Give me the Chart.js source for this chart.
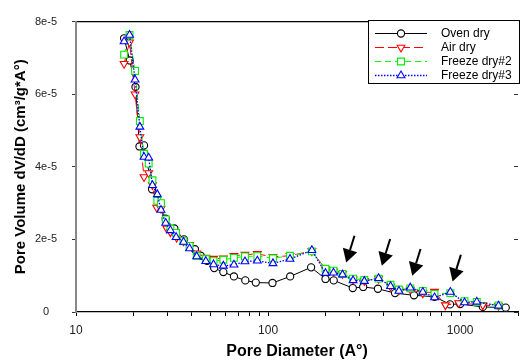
<!DOCTYPE html>
<html>
<head>
<meta charset="utf-8">
<script src="https://cdn.jsdelivr.net/npm/chart.js@4.4.1/dist/chart.umd.min.js"></script>
<style>
html,body{margin:0;padding:0;background:#fff;}
canvas{display:block;}
</style>
</head>
<body>
<canvas id="c" width="525" height="361"></canvas>
<script>
// ---------- data (pore diameter in Å, pore volume dV/dD in cm3/g*Å) ----------
const seriesNames = ['Oven dry', 'Air dry', 'Freeze dry#2', 'Freeze dry#3'];

const ovenDiameters = [17.8,19.05,20.4,21.4,22.6,24.9,29.3,32.5,36.5,41.6,44.6,48.1,52.4,58.5,66.4,76.1,86.3,105.4,130.3,167.5,199,219.6,276,312.7,373,458,575,735,885,1000,1312,1726];
const ovenValues = [7.54e-5,6.93e-5,6.20e-5,4.56e-5,4.59e-5,3.38e-5,2.57e-5,2.30e-5,2.00e-5,1.73e-5,1.55e-5,1.41e-5,1.21e-5,1.10e-5,0.98e-5,0.87e-5,0.81e-5,0.80e-5,0.98e-5,1.23e-5,0.91e-5,0.87e-5,0.66e-5,0.69e-5,0.64e-5,0.52e-5,0.46e-5,0.42e-5,0.21e-5,0.22e-5,0.14e-5,0.12e-5];

const airDiameters = [17.8,19.0,20.3,21.5,22.6,23.9,25.0,26.3,27.7,29.7,31.0,33.4,36.3,39.0,42.5,47.4,52,58.5,66.4,75.8,87.9,106,130,169,199,219,244,277,317,376,434,480,550,639,735,838,983,1312,1583];
const airValues = [6.84e-5,7.43e-5,6.00e-5,4.82e-5,3.72e-5,3.83e-5,3.50e-5,2.88e-5,2.85e-5,2.30e-5,2.20e-5,2.05e-5,1.95e-5,1.85e-5,1.62e-5,1.50e-5,1.47e-5,1.48e-5,1.55e-5,1.58e-5,1.60e-5,1.52e-5,1.55e-5,1.68e-5,1.18e-5,1.12e-5,1.05e-5,0.90e-5,0.86e-5,0.92e-5,0.70e-5,0.60e-5,0.62e-5,0.52e-5,0.56e-5,0.19e-5,0.25e-5,0.19e-5,0.17e-5];

const freezeDiameters = [17.8,19.0,20.3,21.5,22.6,23.9,25.0,26.5,27.7,29.3,31.0,33.2,36.3,39.0,42.5,47.4,52,58.5,66.4,75.8,87.9,106,130,169,199,219,244,277,317,376,434,480,550,639,735,889,1054,1220,1583];
const freeze2Values = [7.09e-5,7.63e-5,6.64e-5,5.26e-5,4.36e-5,4.09e-5,3.63e-5,3.06e-5,3.00e-5,2.55e-5,2.30e-5,2.18e-5,1.95e-5,1.82e-5,1.55e-5,1.46e-5,1.40e-5,1.44e-5,1.49e-5,1.53e-5,1.54e-5,1.48e-5,1.55e-5,1.67e-5,1.19e-5,1.14e-5,1.05e-5,0.92e-5,0.88e-5,0.92e-5,0.75e-5,0.62e-5,0.65e-5,0.58e-5,0.50e-5,0.52e-5,0.30e-5,0.28e-5,0.18e-5];
const freeze3Values = [7.45e-5,7.63e-5,6.40e-5,5.10e-5,4.27e-5,4.25e-5,3.49e-5,3.24e-5,2.81e-5,2.45e-5,2.25e-5,2.06e-5,1.93e-5,1.75e-5,1.53e-5,1.40e-5,1.31e-5,1.27e-5,1.30e-5,1.39e-5,1.41e-5,1.34e-5,1.46e-5,1.70e-5,1.07e-5,1.08e-5,1.03e-5,0.87e-5,0.85e-5,0.93e-5,0.71e-5,0.58e-5,0.67e-5,0.55e-5,0.40e-5,0.55e-5,0.26e-5,0.28e-5,0.17e-5];

// arrow annotations: where each arrow tip points
const arrowDiameters = [255, 391, 563, 913];
const arrowValues = [1.365e-5, 1.275e-5, 1.00e-5, 0.84e-5];

// axes
const xTickValues = [10,20,30,40,50,60,70,80,90,100,200,300,400,500,600,700,800,900,1000,2000];
const xLabelledTicks = [10, 100, 1000];
const xTickLabels = ['10', '100', '1000'];
const yTickValues = [0, 2e-5, 4e-5, 6e-5, 8e-5];
const yTickLabels = ['0', '2e-5', '4e-5', '6e-5', '8e-5'];
const xTitle = 'Pore Diameter (A°)';
const yTitle = 'Pore Volume dV/dD (cm³/g*A°)';

// ---------- chart ----------
const FONT = "'Liberation Sans', Arial, Helvetica, sans-serif";
const pts = (ds, vs) => ds.map((d, i) => ({x: d, y: vs[i]}));

const arrowPlugin = {
  id: 'arrows',
  afterDatasetsDraw(chart) {
    const {ctx, scales} = chart;
    const sx = scales.x, sy = scales.y;
    ctx.save();
    ctx.fillStyle = '#000';
    ctx.strokeStyle = '#000';
    arrowDiameters.forEach((d, i) => {
      const tx = sx.getPixelForValue(d), ty = sy.getPixelForValue(arrowValues[i]);
      const dx = 8.3, dy = -26.7, L = Math.hypot(dx, dy), ux = dx / L, uy = dy / L;
      const headLen = 13, half = 7.5;
      const bx = tx + ux * headLen, by = ty + uy * headLen;
      ctx.lineWidth = 2;
      ctx.beginPath();
      ctx.moveTo(tx + dx, ty + dy);
      ctx.lineTo(bx, by);
      ctx.stroke();
      const px = -uy, py = ux;
      ctx.beginPath();
      ctx.moveTo(tx, ty);
      ctx.lineTo(bx + px * half, by + py * half);
      ctx.lineTo(bx - px * half, by - py * half);
      ctx.closePath();
      ctx.fill();
    });
    ctx.restore();
  }
};

function drawMarker(ctx, ds, x, y) {
  const opts = {pointStyle: ds.pointStyle, radius: ds.pointRadius, rotation: ds.pointRotation || 0, borderWidth: ds.pointBorderWidth};
  ctx.fillStyle = ds.pointBackgroundColor;
  ctx.strokeStyle = ds.pointBorderColor;
  ctx.lineWidth = ds.pointBorderWidth;
  if (Chart.helpers && Chart.helpers.drawPoint) {
    Chart.helpers.drawPoint(ctx, opts, x, y);
  } else {
    ctx.beginPath(); ctx.arc(x, y, ds.pointRadius, 0, Math.PI * 2); ctx.fill(); ctx.stroke();
  }
}

const legendPlugin = {
  id: 'boxLegend',
  afterDraw(chart) {
    const ctx = chart.ctx;
    const x0 = 368.5, y0 = 20.5, w = 151, h = 63;
    ctx.save();
    ctx.fillStyle = '#fff';
    ctx.fillRect(x0, y0, w, h);
    ctx.strokeStyle = '#000';
    ctx.lineWidth = 1;
    ctx.setLineDash([]);
    ctx.strokeRect(x0, y0, w, h);
    chart.data.datasets.forEach((ds, i) => {
      const y = 33.5 + i * 14;
      ctx.save();
      ctx.strokeStyle = ds.borderColor;
      ctx.lineWidth = ds.borderWidth;
      ctx.setLineDash(ds.borderDash || []);
      ctx.beginPath();
      ctx.moveTo(375, y);
      ctx.lineTo(427, y);
      ctx.stroke();
      ctx.setLineDash([]);
      drawMarker(ctx, ds, 401, y);
      ctx.restore();
      ctx.fillStyle = '#000';
      ctx.font = '12px ' + FONT;
      ctx.textBaseline = 'middle';
      ctx.textAlign = 'left';
      ctx.fillText(ds.label, 441, y + 0.5);
    });
    ctx.restore();
  }
};

const common = {
  borderWidth: 1,
  pointBackgroundColor: '#ffffff',
  pointBorderWidth: 1.1,
  tension: 0,
  fill: false,
  xAxisID: 'x',
  yAxisID: 'y'
};

new Chart(document.getElementById('c').getContext('2d'), {
  type: 'line',
  data: {
    datasets: [
      Object.assign({}, common, {
        label: seriesNames[0], data: pts(ovenDiameters, ovenValues),
        borderColor: '#000000', pointBorderColor: '#000000', borderDash: [],
        pointStyle: 'circle', pointRadius: 3.6, order: 3
      }),
      Object.assign({}, common, {
        label: seriesNames[1], data: pts(airDiameters, airValues),
        borderColor: '#ff0000', pointBorderColor: '#ff0000', borderDash: [9, 4],
        pointStyle: 'triangle', pointRotation: 180, pointRadius: 4.5, order: 2
      }),
      Object.assign({}, common, {
        label: seriesNames[2], data: pts(freezeDiameters, freeze2Values),
        borderColor: '#00ff00', pointBorderColor: '#00ee00', borderDash: [6, 4],
        pointStyle: 'rect', pointRadius: 4.8, order: 1
      }),
      Object.assign({}, common, {
        label: seriesNames[3], data: pts(freezeDiameters, freeze3Values),
        borderColor: '#0000ff', pointBorderColor: '#0000ff', borderDash: [1.5, 1.5], borderWidth: 1.3,
        pointStyle: 'triangle', pointRotation: 0, pointRadius: 4.5, order: 0
      })
    ]
  },
  options: {
    responsive: false,
    animation: false,
    devicePixelRatio: 1,
    layout: {padding: 0},
    plugins: {legend: {display: false}, tooltip: {enabled: false}},
    scales: {
      x: {
        type: 'logarithmic', position: 'bottom', min: 10, max: 2000,
        afterBuildTicks: s => { s.ticks = xTickValues.map(v => ({value: v})); },
        afterFit: s => { s.height = 49; },
        ticks: {
          autoSkip: false, maxRotation: 0, minRotation: 0, padding: 7, color: '#222',
          font: {family: FONT, size: 12},
          callback: v => { const k = xLabelledTicks.indexOf(v); return k >= 0 ? xTickLabels[k] : ''; }
        },
        grid: {drawOnChartArea: false, drawTicks: true, tickLength: 4, tickColor: '#000', tickWidth: 1},
        border: {display: true, color: '#000', width: 1.3},
        title: {display: true, text: xTitle, color: '#000', font: {family: FONT, size: 16, weight: 'bold'}, padding: {top: 0, bottom: 0}}
      },
      xTop: {
        type: 'linear', position: 'top', min: 0, max: 1,
        afterFit: s => { s.height = 17; },
        ticks: {display: false},
        grid: {display: false, drawTicks: false},
        border: {display: true, color: '#000', width: 1.3}
      },
      y: {
        type: 'linear', position: 'left', min: 0, max: 8e-5,
        afterBuildTicks: s => { s.ticks = yTickValues.map(v => ({value: v})); },
        afterFit: s => { s.width = 76; },
        ticks: {
          padding: 15, crossAlign: 'center', color: '#222',
          font: {family: FONT, size: 11},
          callback: (v, i) => yTickLabels[i]
        },
        grid: {drawOnChartArea: false, drawTicks: true, tickLength: 4, tickColor: '#333'},
        border: {display: true, color: '#888', width: 2},
        title: {display: true, text: yTitle, color: '#000', font: {family: FONT, size: 15, weight: 'bold'}, padding: {top: 12, bottom: 0}}
      },
      yRight: {
        type: 'linear', position: 'right', min: 0, max: 8e-5,
        afterBuildTicks: s => { s.ticks = yTickValues.map(v => ({value: v})); },
        afterFit: s => { s.width = 0; },
        ticks: {display: false},
        grid: {drawOnChartArea: false, drawTicks: true, tickLength: -4, tickColor: '#333'},
        border: {display: false}
      }
    }
  },
  plugins: [arrowPlugin, legendPlugin]
});
</script>
</body>
</html>
